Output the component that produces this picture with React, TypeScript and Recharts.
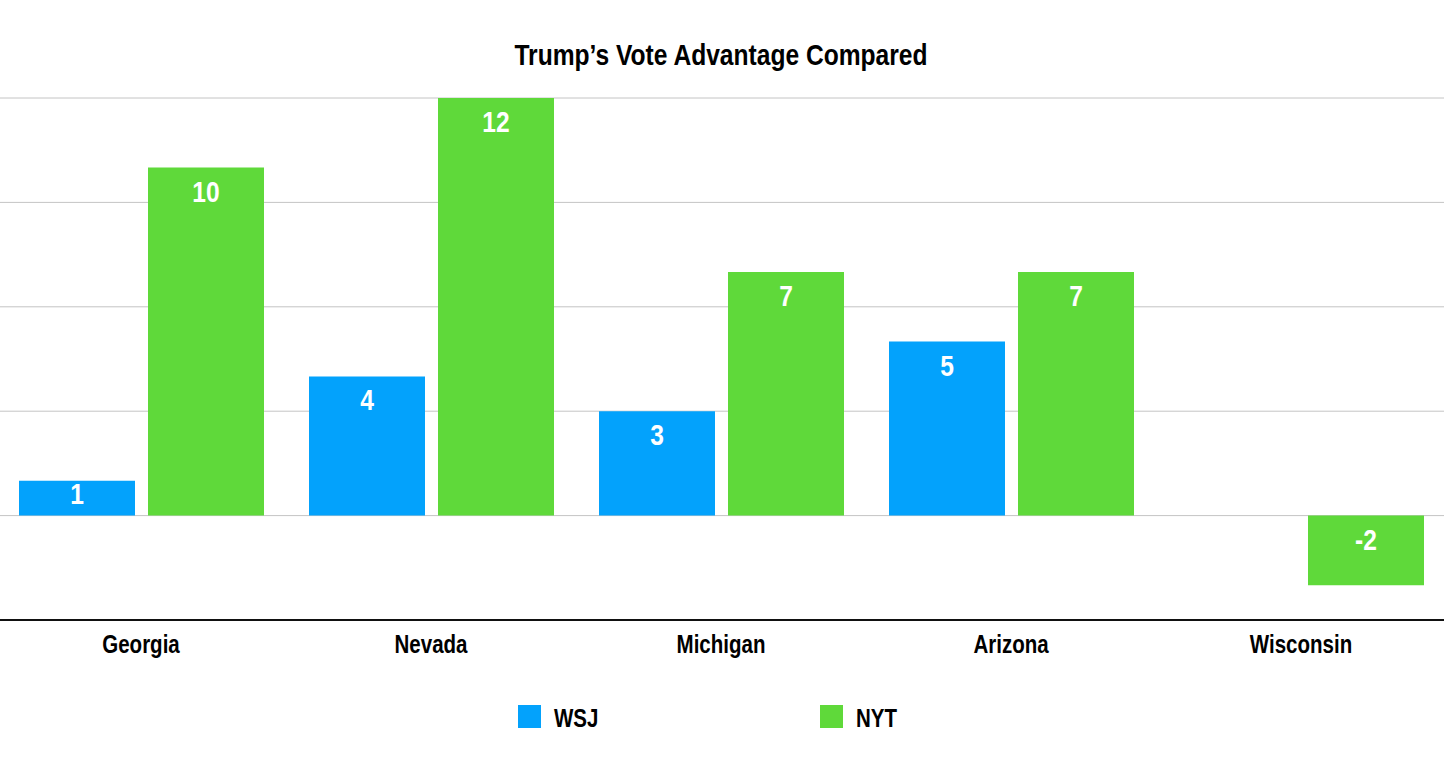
import { BarChart, Bar, XAxis, YAxis, CartesianGrid, LabelList } from 'recharts'

const states = ['Georgia', 'Nevada', 'Michigan', 'Arizona', 'Wisconsin']
const wsj = [1, 4, 3, 5, null]
const nyt = [10, 12, 7, 7, -2]
const yTicks = [-3, 0, 3, 6, 9, 12]

const series = [
  { key: 'wsj', name: 'WSJ', color: '#03A2FC' },
  { key: 'nyt', name: 'NYT', color: '#5FD93A' },
]

const data = states.map((state, i) => ({ state, wsj: wsj[i], nyt: nyt[i] }))

// no Arial Narrow here, so squeeze Liberation Sans Bold horizontally instead
const font = "'Liberation Sans', Arial, sans-serif"
const narrow = 0.82

const NarrowText = ({ x, y, size, fill = '#000', anchor = 'middle', children }: any) => (
  <text
    transform={`translate(${x} ${y}) scale(${narrow} 1)`}
    textAnchor={anchor}
    fontSize={size}
    fontWeight="bold"
    fontFamily={font}
    fill={fill}
  >
    {children}
  </text>
)

// label sits just under the top edge of the bar, whichever way the bar points
const BarValue = (props: any) => {
  const { x, y, width, height, value } = props
  if (value === null || value === undefined) return null
  const top = Math.min(y, y + height)
  const drop = Math.min(34, Math.abs(height) - 12)
  return (
    <NarrowText x={x + width / 2} y={top + drop} size={30} fill="#fff">
      {value}
    </NarrowText>
  )
}

const StateTick = (props: any) => {
  const { x, y, payload } = props
  return (
    <NarrowText x={x} y={y + 33} size={25}>
      {payload.value}
    </NarrowText>
  )
}

export default function App() {
  return (
    <div style={{ position: 'absolute', left: 0, top: 0, width: 1444, height: 766, overflow: 'hidden', background: '#fff' }}>
      <div style={{ position: 'absolute', left: -4, top: 0 }}>
        <BarChart
          width={1450}
          height={766}
          data={data}
          margin={{ top: 98, right: 0, left: 0, bottom: 106 }}
          barSize={116}
          barGap={13}
        >
          <CartesianGrid vertical={false} stroke="#c4c4c4" strokeWidth={1} />
          <YAxis hide domain={[-3, 12]} ticks={yTicks} />
          <XAxis
            dataKey="state"
            height={40}
            axisLine={{ stroke: '#111', strokeWidth: 2 }}
            tickLine={false}
            tickSize={0}
            tickMargin={0}
            tick={<StateTick />}
          />
          {series.map((s) => (
            <Bar key={s.key} dataKey={s.key} name={s.name} fill={s.color} isAnimationActive={false}>
              <LabelList dataKey={s.key} content={BarValue} />
            </Bar>
          ))}
        </BarChart>
      </div>
      <svg width={1444} height={766} style={{ position: 'absolute', left: 0, top: 0, pointerEvents: 'none' }}>
        <NarrowText x={721} y={65} size={30}>
          Trump’s Vote Advantage Compared
        </NarrowText>
        {series.map((s, i) => (
          <g key={s.key} transform={`translate(${518 + i * 302}, 705)`}>
            <rect width={23} height={23} fill={s.color} />
            <NarrowText x={36} y={22} size={25} anchor="start">
              {s.name}
            </NarrowText>
          </g>
        ))}
      </svg>
    </div>
  )
}
